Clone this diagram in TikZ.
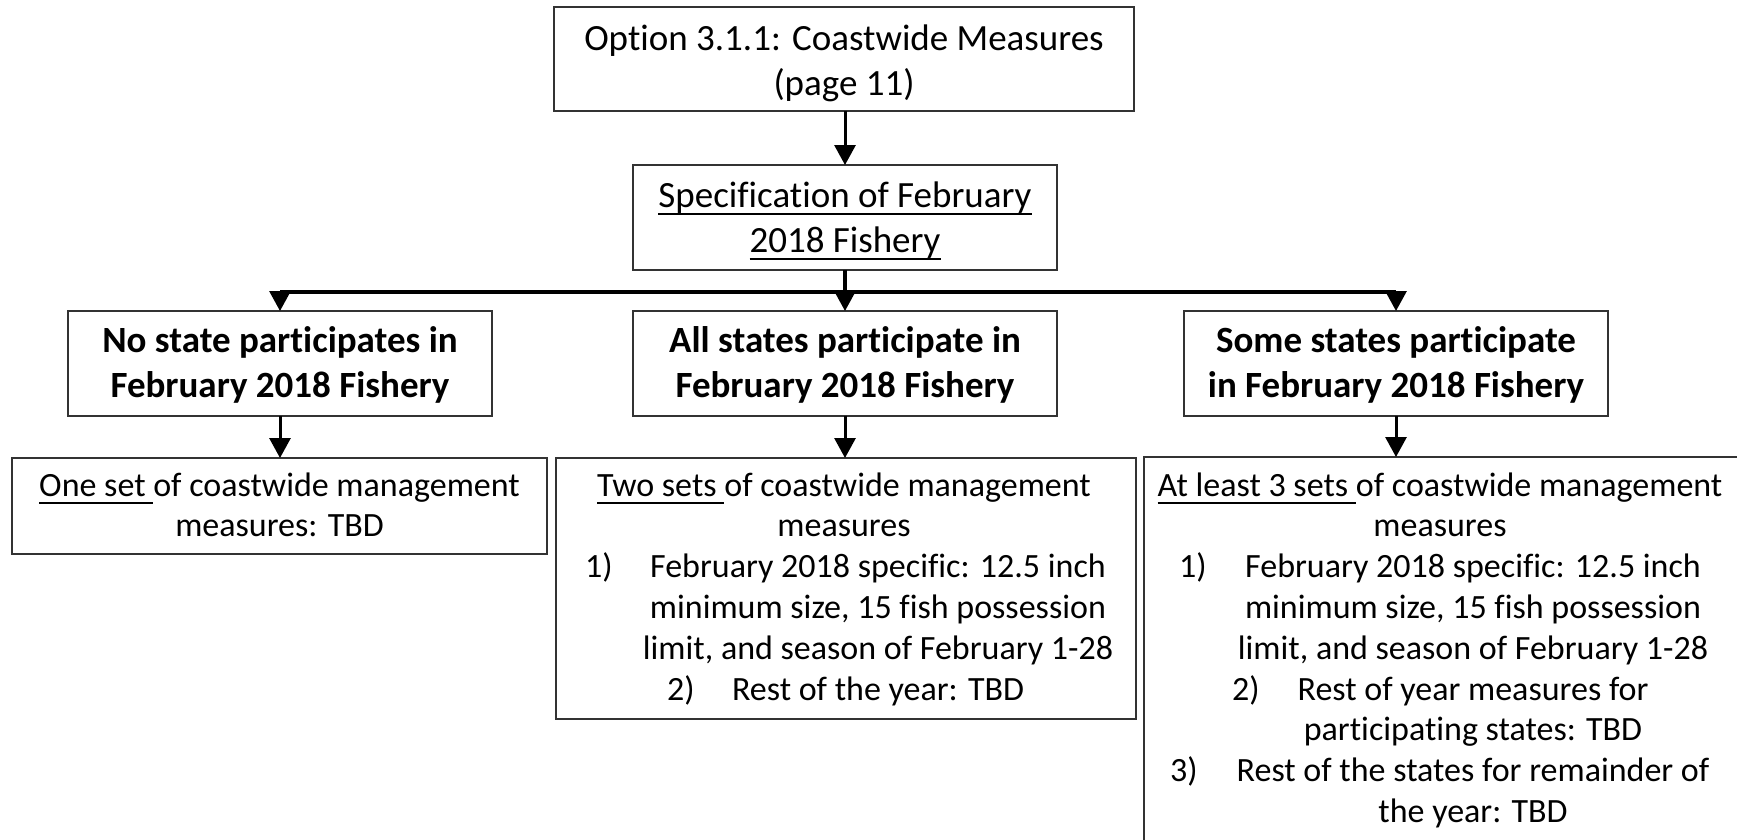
\documentclass[tikz,border=0pt]{standalone}
\usepackage{fontspec}
\setmainfont{Carlito}[Ligatures=NoCommon]
\usetikzlibrary{arrows.meta}
\newcommand\myul[1]{\setbox0\hbox{#1}\rlap{\rule[-7.5pt]{\wd0}{2pt}}\box0}
\begin{document}
\begin{tikzpicture}[x=1pt,y=-1pt,
  box/.style={draw=black!80, line width=1.5pt, inner sep=0pt, outer sep=0pt, anchor=north west},
  big/.style={font=\fontsize{37}{45}\selectfont, anchor=base, inner sep=0pt},
  bigb/.style={font=\fontsize{37}{45}\selectfont\bfseries, anchor=base, inner sep=0pt},
  small/.style={font=\fontsize{34}{41}\selectfont, anchor=base, inner sep=0pt},
  num/.style={font=\fontsize{34}{41}\selectfont, anchor=base west, inner sep=0pt},
  conn/.style={line width=3pt, -{Triangle[width=21pt,length=20pt]}},
  bar/.style={line width=3.5pt}]
\useasboundingbox (0,0) rectangle (1737,839);
\clip (0,0) rectangle (1737,839);

% boxes
\node[box, minimum width=580pt, minimum height=104pt] (top) at (554,7) {};
\node[box, minimum width=424pt, minimum height=105pt] (spec) at (633,165) {};
\node[box, minimum width=424pt, minimum height=105pt] (nost) at (68,311) {};
\node[box, minimum width=424pt, minimum height=105pt] (alls) at (633,311) {};
\node[box, minimum width=424pt, minimum height=105pt] (some) at (1184,311) {};
\node[box, minimum width=535pt, minimum height=96pt] (one) at (12,458) {};
\node[box, minimum width=580pt, minimum height=261pt] (two) at (556,458) {};
\node[box, minimum width=640pt, minimum height=420pt] (atl) at (1144,457) {};

% texts
\node[big] (t1) at (844,50) {Option 3.1.1: Coastwide Measures};
\node[big] (t2) at (844,95) {(page 11)};
\node[big] (s1) at (845,207) {\myul{Specification of February}};
\node[big] (s2) at (845,252) {\myul{2018 Fishery}};

\node[bigb] (n1) at (280,352) {No state participates in};
\node[bigb] (n2) at (280,397) {February 2018 Fishery};
\node[bigb] (a1) at (845,352) {All states participate in};
\node[bigb] (a2) at (845,397) {February 2018 Fishery};
\node[bigb] (m1) at (1396,352) {Some states participate};
\node[bigb] (m2) at (1396,397) {in February 2018 Fishery};

\node[small] (o1) at (279.5,496) {\myul{One set\ }of coastwide management};
\node[small] (o2) at (279.5,536.8) {measures: TBD};

\node[small] (w1) at (844,496) {\myul{Two sets\ }of coastwide management};
\node[small] (w2) at (844,536.8) {measures};
\node[num] (wn1) at (585,577.6) {1)};
\node[small] (w3) at (878,577.6) {February 2018 specific: 12.5 inch};
\node[small] (w4) at (878,618.4) {minimum size, 15 fish possession};
\node[small] (w5) at (878,659.2) {limit, and season of February 1-28};
\node[num] (wn2) at (667,700) {2)};
\node[small] (w6) at (878,700) {Rest of the year: TBD};

\node[small] (l1) at (1440,496) {\myul{At least 3 sets\ }of coastwide management};
\node[small] (l2) at (1440,536.8) {measures};
\node[num] (ln1) at (1179,577.6) {1)};
\node[small] (l3) at (1473,577.6) {February 2018 specific: 12.5 inch};
\node[small] (l4) at (1473,618.4) {minimum size, 15 fish possession};
\node[small] (l5) at (1473,659.2) {limit, and season of February 1-28};
\node[num] (ln2) at (1232,700) {2)};
\node[small] (l6) at (1473,700) {Rest of year measures for};
\node[small] (l7) at (1473,740.8) {participating states: TBD};
\node[num] (ln3) at (1170,781.6) {3)};
\node[small] (l8) at (1473,781.6) {Rest of the states for remainder of};
\node[small] (l9) at (1473,822.4) {the year: TBD};

% connectors
\coordinate (j) at (846,292);
\draw[conn] (spec.north |- top.south) -- (spec.north);
\draw[bar] (spec.south) -- (spec.south |- j);
\draw[bar] (nost.north |- j) -- (some.north |- j);
\draw[conn] (nost.north |- j) -- (nost.north);
\draw[conn] (alls.north |- j) -- (alls.north);
\draw[conn] (some.north |- j) -- (some.north);
\draw[conn] (nost.south) -- (one.north -| nost.south);
\draw[conn] (alls.south) -- (two.north -| alls.south);
\draw[conn] (some.south) -- (atl.north -| some.south);
\end{tikzpicture}
\end{document}
